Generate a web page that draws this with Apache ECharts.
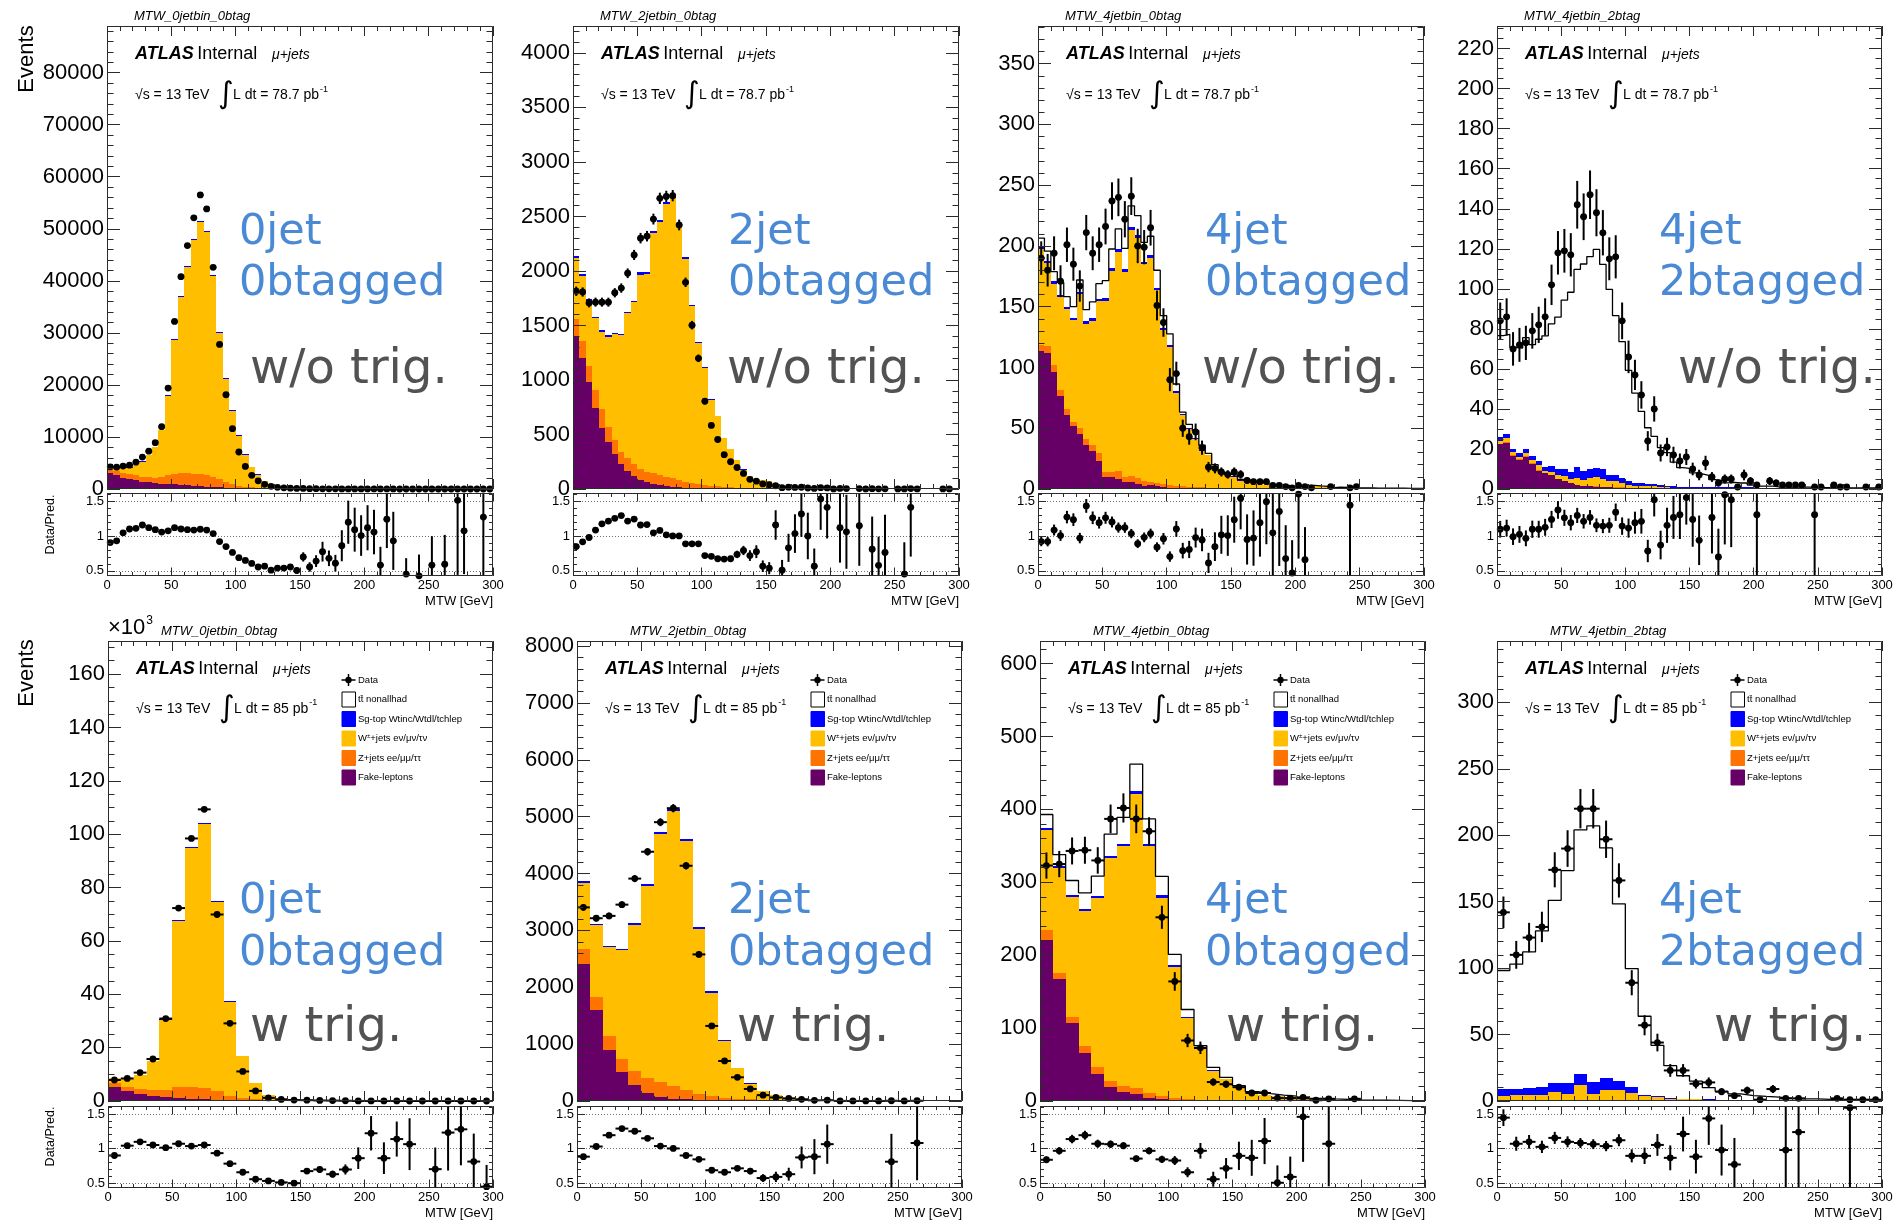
<!DOCTYPE html>
<html>
<head>
<meta charset="utf-8">
<title>MTW control distributions, mu+jets</title>
<script src="https://cdn.jsdelivr.net/npm/echarts@6/dist/echarts.min.js"></script>
<style>
html, body { margin: 0; padding: 0; background: #ffffff; }
#chart { width: 1895px; height: 1222px; }
</style>
</head>
<body>
<div id="chart"></div>
<script>
// ---------------------------------------------------------------------------
// Histogram contents (events per bin). Top row: 5 GeV bins, bottom row: 10 GeV bins.
// Stack order (bottom -> top): fake leptons, Z+jets, W+jets, single top, ttbar.
// ---------------------------------------------------------------------------

// 0 jet, 0 b-tag, no trigger requirement (78.7 pb-1)
const p1Data = [4270, 4200, 4400, 4570, 5160, 6140, 7260, 8900, 11980, 19390,
  32190, 40790, 46780, 52100, 56510, 53820, 42590, 27770, 18110, 11600,
  7110, 4340, 2620, 1570, 900, 520, 324, 227, 167, 111,
  112, 67, 58, 30, 37, 26, 15, 15, 12, 12,
  12, 11, 5, 9, 5, 1, 4, 1, 2, 1,
  2, 1, 2, 1, 2, 3, 1, 1, 2, 1];
const p1Ratio = [0.905, 0.93, 1.045, 1.10, 1.11, 1.157, 1.118, 1.09, 1.056, 1.073,
  1.118, 1.10, 1.09, 1.084, 1.096, 1.084, 1.034, 0.92, 0.848, 0.764,
  0.69, 0.65, 0.607, 0.556, 0.567, 0.51, 0.54, 0.54, 0.556, 0.506,
  0.70, 0.556, 0.64, 0.775, 0.68, 0.61, 0.86, 1.197, 1.09, 1.006,
  1.118, 1.056, 0.584, 1.24, 0.93, null, 0.455, null, 0.43, null,
  0.584, null, 0.595, null, 1.51, 1.073, null, null, 1.27, null];
const p1Fake = [3140, 2620, 2170, 1870, 1650, 1420, 1270, 1120, 1050, 970,
  880, 800, 720, 640, 560, 480, 400, 320, 250, 190,
  140, 100, 80, 60, 40, 30, 22, 16, 12, 9,
  7, 5, 4, 3, 2, 2, 1, 1, 1, 1,
  1, 1, 1, 1, 1, 0.2, 0.2, 0.2, 0.2, 0.2,
  0.2, 0.2, 0.2, 0.2, 0.2, 0.2, 0.2, 0.2, 0.2, 0.2];
const p1Zjets = [760, 880, 980, 980, 950, 980, 980, 1080, 1320, 1720,
  2000, 2210, 2290, 2310, 2320, 2210, 1970, 1540, 1160, 710,
  440, 350, 240, 170, 120, 80, 60, 45, 35, 27,
  20, 16, 13, 10, 8, 6, 5, 4, 3, 3,
  2, 2, 2, 1, 1, 0.3, 0.3, 0.3, 0.3, 0.3,
  0.3, 0.3, 0.3, 0.3, 0.3, 0.3, 0.3, 0.3, 0.3, 0.3];
const p1Wjets = [800, 998, 1037, 1276, 2015, 2862, 4188, 5887, 8875, 15248,
  25735, 33852, 39660, 44838, 48396, 46685, 38565, 28096, 19758, 14120,
  9592, 6130, 3923, 2530, 1384, 876, 492, 339, 238, 172,
  125, 93, 68, 53, 41, 31, 24, 18, 14, 10,
  8, 5.5, 3.5, 3, 1.8, 4.0, 3.2, 2.6, 2.1, 1.7,
  1.3, 1.0, 0.8, 0.6, 0.5, 0.4, 0.2, 0.1, 0, 0];
const p1Sgtop = [15, 15, 20, 25, 30, 40, 50, 70, 90, 120,
  160, 200, 230, 250, 260, 250, 230, 200, 170, 140,
  110, 85, 65, 50, 38, 28, 21, 16, 12, 9,
  7, 5, 4, 3, 3, 2, 2, 2, 1, 1,
  1, 1, 1, 1, 1, 0.2, 0.2, 0.2, 0.2, 0.2,
  0.2, 0.2, 0.2, 0.2, 0.2, 0.2, 0.2, 0.2, 0.2, 0.2];
const p1Ttbar = [3, 3, 3, 4, 5, 5, 6, 8, 10, 12,
  15, 18, 20, 22, 24, 25, 25, 24, 22, 20,
  18, 15, 12, 10, 8, 6, 5, 4, 3, 3,
  1, 1, 1, 1, 1, 1, 1, 1, 1, 1,
  1, 1, 1, 1, 1, 0.1, 0.1, 0.1, 0.1, 0.1,
  0.1, 0.1, 0.1, 0.1, 0.1, 0.1, 0.1, 0.1, 0.1, 0.1];

// 2 jet, 0 b-tag, no trigger requirement
const p2Data = [1814, 1807, 1707, 1714, 1714, 1714, 1800, 1843, 1979, 2147,
  2301, 2319, 2476, 2666, 2684, 2691, 2422, 1896, 1503, 1199,
  805, 583, 454, 315, 250, 197, 143, 89, 72, 47,
  39, 30, 12, 17, 14, 16, 9, 5, 12, 10,
  1, 5, 4, 0, 4, 1, 3, 2, 2, 0,
  1, 1, 4, 1, 0, 0, 0, 1, 1, 0];
const p2Ratio = [0.848, 0.916, 0.978, 1.084, 1.174, 1.213, 1.253, 1.292, 1.213, 1.242,
  1.157, 1.163, 1.045, 1.079, 1.017, 1.0, 1.0, 0.888, 0.888, 0.888,
  0.719, 0.708, 0.674, 0.669, 0.674, 0.736, 0.792, 0.719, 0.775, 0.567,
  0.539, 1.157, 0.51, 0.83, 1.034, 1.315, 1.0, 0.567, 1.53, 1.41,
  null, 1.118, 1.06, null, 1.146, null, 0.81, 0.58, 0.764, null,
  null, 0.455, 1.41, null, null, null, null, null, null, null];
const p2Fake = [1400, 1200, 984, 741, 562, 429, 322, 233, 168, 118,
  80, 60, 45, 35, 25, 20, 15, 10, 8, 6,
  5, 4, 3, 2, 2, 1, 1, 1, 1, 1,
  0.5, 0.5, 0.5, 0.5, 0.5, 0.5, 0.5, 0.5, 0.5, 0.5,
  0.5, 0.5, 0.5, 0.5, 0.5, 0.5, 0.5, 0.5, 0.5, 0.5,
  0.5, 0.5, 0.5, 0.5, 0.5, 0.5, 0.5, 0.5, 0.5, 0.5];
const p2Zjets = [160, 156, 143, 171, 171, 143, 125, 107, 118, 115,
  99, 94, 98, 90, 86, 77, 67, 54, 46, 39,
  33, 26, 21, 16, 12, 9, 7, 5, 4, 3,
  3, 2, 2, 2, 1.5, 1.5, 1, 1, 1, 1,
  0.8, 0.8, 0.6, 0.6, 0.5, 0.5, 0.4, 0.4, 0.3, 0.3,
  0.3, 0.2, 0.2, 0.2, 0.2, 0.1, 0.1, 0.1, 0.1, 0.1];
const p2Wjets = [562, 600, 601, 652, 710, 824, 973, 1069, 1327, 1478,
  1787, 1817, 2203, 2323, 2505, 2571, 2317, 2050, 1621, 1291,
  1070, 783, 643, 447, 352, 254, 169, 115, 85, 76,
  66, 22, 19, 16, 10, 8.7, 6.3, 6.2, 5.3, 4.6,
  3.1, 2.6, 2.2, 2.0, 2.0, 1.8, 2.4, 2.1, 1.4, 1.2,
  1.1, 1.2, 1.8, 1.0, 0.8, 0.7, 0.6, 0.4, 0.3, 0.1];
const p2Sgtop = [15, 15, 15, 15, 15, 15, 15, 15, 15, 15,
  20, 20, 20, 20, 20, 20, 20, 18, 15, 12,
  10, 8, 6, 5, 4, 3, 2, 2, 2, 2,
  2, 1, 1, 1, 1, 0.8, 0.7, 0.6, 0.5, 0.5,
  0.4, 0.4, 0.3, 0.3, 0.3, 0.2, 0.2, 0.2, 0.2, 0.2,
  0.1, 0.1, 0.1, 0.1, 0.1, 0.1, 0.1, 0.1, 0.1, 0.1];
const p2Ttbar = [2, 2, 2, 2, 2, 2, 2, 2, 3, 3,
  3, 3, 3, 3, 3, 3, 3, 3, 3, 2,
  2, 2, 1, 1, 1, 1, 1, 1, 1, 1,
  0.5, 0.5, 0.5, 0.5, 0.5, 0.5, 0.5, 0.5, 0.5, 0.5,
  0.2, 0.2, 0.2, 0.2, 0.2, 0.2, 0.2, 0.2, 0.2, 0.2,
  0.2, 0.2, 0.2, 0.2, 0.2, 0.2, 0.2, 0.2, 0.2, 0.2];

// 4 jet, 0 b-tag, no trigger requirement
const p3Data = [190, 180, 194, 171, 201, 185, 167, 211, 194, 201,
  216, 237, 240, 222, 241, 200, 199, 215, 151, 137,
  90, 95, 50, 43, 47, 34, 18, 17, 14, 12,
  14, 12, 7, 6, 6, 6, 3, 3, 2, 1,
  3, 2, 1, 0, 0, 2, 0, 0, 1, 2,
  0, 0, 0, 0, 0, 0, 0, 0, 0, 0];
const p3Ratio = [0.92, 0.92, 1.085, 1.006, 1.27, 1.233, 0.97, 1.43, 1.26, 1.19,
  1.26, 1.2, 1.12, 1.12, 1.034, 0.89, 0.98, 1.034, 0.84, 0.96,
  0.705, 1.1, 0.79, 0.807, 0.977, 0.943, 0.614, 0.847, 1.017, 1.006,
  1.233, 1.54, 0.95, 0.97, 1.19, 1.49, 1.045, 1.35, 0.676, 0.47,
  1.6, 0.66, null, null, null, null, null, null, 1.44, null,
  null, null, null, null, null, null, null, null, null, null];
const p3Fake = [113.3, 112.2, 96.2, 76.4, 60.5, 51.7, 45.4, 36.3, 31.6, 23.4,
  9.6, 9.6, 8.2, 5.5, 6.0, 4.1, 2.7, 3.3, 2.2, 1.5,
  1.2, 1.0, 0.8, 0.6, 0.5, 0.4, 0.3, 0.3, 0.2, 0.2,
  0.2, 0.1, 0.1, 0.1, 0.1, 0.1, 0.1, 0.1, 0.1, 0.1,
  0.1, 0.1, 0.1, 0.1, 0.1, 0.1, 0.1, 0.1, 0.1, 0.1,
  0.1, 0.1, 0.1, 0.1, 0.1, 0.1, 0.1, 0.1, 0.1, 0.1];
const p3Zjets = [4.9, 5.5, 6.1, 4.7, 5.5, 3.8, 4.6, 4.9, 4.7, 6.0,
  4.7, 4.7, 6.9, 4.1, 4.4, 4.7, 4.2, 2.2, 2.5, 2.6,
  2.4, 1.7, 1.4, 1.2, 1.0, 0.9, 0.8, 0.6, 0.5, 0.4,
  0.4, 0.3, 0.3, 0.3, 0.2, 0.2, 0.2, 0.1, 0.1, 0.1,
  0.1, 0.1, 0.1, 0.1, 0.1, 0.1, 0.1, 0.1, 0.1, 0.1,
  0.1, 0.1, 0.1, 0.1, 0.1, 0.1, 0.1, 0.1, 0.1, 0.1];
const p3Wjets = [79.2, 67.9, 66.8, 77.0, 81.9, 83.3, 110.3, 94.9, 102.3, 125.1,
  140.2, 165.0, 179.6, 168.6, 202.6, 198.0, 177.9, 184.8, 158.9, 126.5,
  113.3, 76.5, 58.3, 47.6, 39.7, 30.3, 26.5, 17.5, 11.6, 10.1,
  9.6, 6.4, 6.1, 5.0, 4.0, 3.1, 2.2, 1.6, 2.4, 1.6,
  1.4, 2.5, 2.5, 2.0, 1.7, 0.8, 1.2, 1.0, 0.4, 0.6,
  0.6, 0.5, 0.4, 0.3, 0.3, 0.3, 0.2, 0.1, 0.1, 0.1];
const p3Sgtop = [2.0, 2.0, 1.8, 1.8, 1.8, 1.8, 2.0, 2.0, 2.2, 2.2,
  2.4, 2.4, 2.5, 2.5, 2.6, 2.6, 2.4, 2.4, 2.2, 2.0,
  1.8, 1.5, 1.2, 1.0, 0.9, 0.8, 0.7, 0.6, 0.5, 0.4,
  0.4, 0.3, 0.3, 0.3, 0.2, 0.2, 0.1, 0.1, 0.1, 0.1,
  0.1, 0.1, 0.1, 0.1, 0.1, 0.1, 0.1, 0.1, 0.1, 0.1,
  0.1, 0.1, 0.1, 0.1, 0.1, 0.1, 0.1, 0.1, 0.1, 0.1];
const p3Ttbar = [7.1, 8.1, 7.9, 10.1, 8.6, 9.4, 9.7, 9.5, 13.2, 12.3,
  14.5, 15.8, 16.8, 17.3, 17.4, 15.6, 15.8, 15.3, 14.2, 10.1,
  9.0, 5.7, 1.6, 2.8, 5.9, 3.6, 1.0, 1.0, 1.0, 0.9,
  0.8, 0.7, 0.6, 0.5, 0.5, 0.4, 0.3, 0.3, 0.3, 0.2,
  0.2, 0.2, 0.2, 0.2, 0.2, 0.1, 0.1, 0.1, 0.1, 0.1,
  0.1, 0.1, 0.1, 0.1, 0.1, 0.1, 0.1, 0.1, 0.1, 0.1];

// 4 jet, 2 b-tag, no trigger requirement
const p4Data = [84, 86, 70, 72, 73, 79, 82, 86, 102, 118,
  119, 117, 142, 136, 147, 138, 128, 115, 116, 84,
  66, 57, 47, 24, 40, 18, 21, 17, 14, 16,
  10, 7, 13, 6, 3, 5, 5, 1, 7, 4,
  2, 0, 4, 3, 2, 2, 2, 2, 0, 1,
  1, 0, 2, 1, 1, 0, 0, 1, 0, 1];
const p4Ratio = [1.096, 1.113, 0.99, 1.023, 0.966, 1.096, 1.096, 1.124, 1.237, 1.373,
  1.26, 1.19, 1.294, 1.21, 1.266, 1.153, 1.141, 1.153, 1.34, 1.141,
  1.113, 1.19, 1.21, 0.785, 1.52, 0.87, 1.153, 1.266, 1.305, 1.55,
  1.237, 0.938, null, 1.266, 0.70, 1.59, 1.52, null, null, null,
  1.305, null, null, null, null, null, null, null, null, 1.305,
  null, null, null, null, null, null, null, null, null, null];
const p4Fake = [22.4, 23.0, 16.5, 14.6, 16.0, 12.7, 9.2, 7.8, 6.8, 4.9,
  3.9, 2.9, 1.9, 1.5, 1.5, 1.2, 1.0, 0.8, 0.7, 0.6,
  0.5, 0.4, 0.3, 0.3, 0.2, 0.2, 0.2, 0.2, 0.1, 0.1,
  0.3, 0.3, 0.3, 0.3, 0.3, 0.3, 0.3, 0.3, 0.3, 0.3,
  0.3, 0.3, 0.3, 0.3, 0.3, 0.3, 0.3, 0.3, 0.3, 0.3,
  0.3, 0.3, 0.3, 0.3, 0.3, 0.3, 0.3, 0.3, 0.3, 0.3];
const p4Zjets = [0.3, 0.3, 0.3, 0.3, 0.3, 0.3, 0.3, 0.3, 0.3, 0.3,
  0.3, 0.3, 0.2, 0.2, 0.2, 0.2, 0.2, 0.2, 0.2, 0.2,
  0.2, 0.2, 0.2, 0.2, 0.2, 0.2, 0.1, 0.1, 0.1, 0.1,
  0.1, 0.1, 0.1, 0.1, 0.1, 0.1, 0.1, 0.1, 0.1, 0.1,
  0.1, 0.1, 0.1, 0.1, 0.1, 0.1, 0.1, 0.1, 0.1, 0.1,
  0.1, 0.1, 0.1, 0.1, 0.1, 0.1, 0.1, 0.1, 0.1, 0.1];
const p4Wjets = [1.5, 2.0, 1.5, 1.2, 1.5, 1.5, 2.5, 1.0, 1.5, 2.0,
  2.5, 2.0, 3.5, 3.0, 4.0, 4.5, 4.0, 3.0, 3.0, 2.0,
  1.5, 1.0, 1.2, 0.8, 1.0, 0.5, 0.5, 0.4, 0.4, 0.3,
  0.2, 0.2, 0.2, 0.2, 0.2, 0.2, 0.2, 0.2, 0.2, 0.2,
  0.1, 0.1, 0.1, 0.1, 0.1, 0.1, 0.1, 0.1, 0.1, 0.1,
  0.1, 0.1, 0.1, 0.1, 0.1, 0.1, 0.1, 0.1, 0.1, 0.1];
const p4Sgtop = [2.0, 2.2, 1.8, 1.9, 2.2, 1.8, 2.2, 2.0, 2.8, 3.0,
  3.5, 3.5, 5.5, 4.5, 4.5, 4.8, 4.8, 3.2, 3.0, 2.6,
  2.0, 1.6, 1.4, 1.3, 1.2, 1.0, 0.8, 0.6, 0.5, 0.5,
  0.4, 0.4, 0.3, 0.3, 0.3, 0.2, 0.2, 0.2, 0.2, 0.2,
  0.1, 0.1, 0.1, 0.1, 0.1, 0.1, 0.1, 0.1, 0.1, 0.1,
  0.1, 0.1, 0.1, 0.1, 0.1, 0.1, 0.1, 0.1, 0.1, 0.1];
const p4Ttbar = [50.4, 49.8, 50.6, 52.4, 55.6, 55.8, 60.6, 65.4, 71.1, 75.7,
  84.2, 89.6, 98.6, 103.2, 105.9, 109.0, 102.2, 92.5, 79.7, 68.2,
  55.1, 44.7, 35.7, 28.0, 23.7, 18.8, 16.6, 12.1, 9.6, 9.3,
  7.1, 6.5, 5.9, 3.8, 3.4, 2.3, 2.5, 2.2, 2.2, 1.2,
  0.8, 0.8, 0.8, 0.5, 0.4, 0.4, 0.4, 0.3, 0.3, 0.17,
  0.1, 0.05, 0, 0, 0, 0, 0, 0, 0, 0];

// 0 jet, 0 b-tag, with trigger (85 pb-1)
const p5Data = [7870, 8450, 10640, 15740, 30900, 72300, 98400, 109300, 69900, 29100,
  11070, 3790, 1170, 600, 350, 300, 200, 150, 90, 30,
  24, 14, 20, 8, 1, 5, 5, 6, 4, 2];
const p5Ratio = [0.898, 1.04, 1.096, 1.05, 1.011, 1.068, 1.034, 1.05, 0.932, 0.78,
  0.655, 0.554, 0.53, 0.508, 0.497, 0.672, 0.695, 0.627, 0.695, 0.859,
  1.22, 0.859, 1.136, 1.062, null, 0.70, 1.23, 1.277, 0.81, 0.446];
const p5Fake = [5250, 3600, 2600, 1750, 1460, 1170, 700, 580, 400, 300,
  200, 120, 60, 30, 20, 10, 6, 4, 3, 2,
  1, 1, 0.5, 0.5, 0.3, 0.3, 0.2, 0.2, 0.2, 0.2];
const p5Zjets = [1650, 1500, 1900, 2350, 2640, 4080, 4550, 4220, 3200, 1600,
  970, 480, 250, 120, 70, 40, 20, 14, 9, 3,
  2.5, 2, 2, 1, 0.8, 0.8, 0.5, 0.5, 0.5, 0.4];
const p5Wjets = [1832, 2993, 5165, 10826, 26354, 62240, 89648, 99006, 71138, 35211,
  15604, 6166, 1858, 1004, 598, 385.5, 254.5, 214.5, 112.7, 26.8,
  13.9, 11.9, 13.9, 4.9, 3.4, 5.4, 2.9, 3.5, 3.7, 3.5];
const p5Sgtop = [30, 30, 40, 60, 100, 200, 250, 280, 250, 180,
  120, 70, 40, 25, 15, 10, 7, 6, 5, 3,
  2.2, 1.3, 1.1, 1, 0.4, 0.5, 0.4, 0.4, 0.4, 0.3];
const p5Ttbar = [2, 2, 3, 4, 6, 10, 12, 14, 12, 9,
  6, 4, 2, 1, 1, 0.5, 0.5, 0.5, 0.3, 0.2,
  0.1, 0.1, 0.1, 0.1, 0.1, 0.1, 0.1, 0.1, 0.1, 0.1];

// 2 jet, 0 b-tag, with trigger
const p6Data = [3405, 3214, 3255, 3453, 3911, 4383, 4903, 5149, 4137, 2578,
  1320, 704, 417, 212, 103, 62, 45, 30, 12, 14,
  2, 1, 1, 1, 4, 1, 4, 0, 0, 0];
const p6Ratio = [0.881, 1.028, 1.192, 1.288, 1.249, 1.147, 1.034, 1.0, 0.898, 0.842,
  0.684, 0.655, 0.712, 0.672, 0.571, 0.588, 0.627, 0.87, 0.881, 1.062,
  null, null, null, null, 0.808, null, 1.079, null, null, null];
const p6Fake = [2414, 1593, 896, 513, 280, 144, 75, 41, 27, 20,
  14, 10, 7, 5, 3, 3, 2, 2, 1, 1,
  0.5, 0.5, 0.5, 0.5, 0.5, 0.5, 0.5, 0.5, 0.5, 0.5];
const p6Zjets = [266, 240, 239, 225, 253, 266, 253, 219, 164, 103,
  75, 45, 34, 22, 17, 9, 7, 4, 3, 2,
  1.5, 1, 0.8, 0.6, 0.5, 0.4, 0.3, 0.3, 0.2, 0.2];
const p6Wjets = [1160, 1268, 1571, 1918, 2568, 3375, 4372, 4847, 4380, 2909,
  1817, 1002, 533, 279, 154, 88, 59, 26, 7.8, 8.7,
  4.8, 3.5, 2.9, 2.2, 3.3, 1.6, 2.5, 1.8, 1.5, 1.0];
const p6Sgtop = [20, 20, 20, 20, 25, 30, 35, 35, 30, 25,
  20, 15, 10, 7, 5, 4, 3, 2, 1.5, 1.2,
  1, 0.8, 0.6, 0.5, 0.5, 0.4, 0.3, 0.3, 0.2, 0.2];
const p6Ttbar = [5, 5, 5, 5, 5, 6, 7, 7, 6, 5,
  4, 3, 2, 2, 1, 1, 1, 0.5, 0.3, 0.3,
  0.2, 0.2, 0.2, 0.2, 0.2, 0.1, 0.1, 0.1, 0.1, 0.1];

// 4 jet, 0 b-tag, with trigger
const p7Data = [323, 325, 343, 344, 330, 387, 402, 387, 370, 252,
  164, 83, 73, 26, 23, 19, 11, 11, 4, 4,
  5, 1, 3, 0, 3, 0, 0, 0, 0, 0];
const p7Ratio = [0.836, 0.966, 1.136, 1.192, 1.068, 1.062, 1.04, 0.853, 0.966, 0.842,
  0.825, 0.655, 0.966, 0.554, 0.712, 0.893, 0.864, 1.107, 0.503, 0.588,
  1.458, null, 1.068, null, null, null, null, null, null, null];
const p7Fake = [221, 167, 107, 66, 37, 19, 12, 10, 4, 3,
  2, 1.5, 1, 0.5, 0.3, 0.2, 0.1, 0.1, 0.1, 0.1,
  0.1, 0.1, 0.1, 0.1, 0.1, 0.2, 0.3, 0.3, 0.3, 0.3];
const p7Zjets = [13, 9, 8, 9, 10, 9, 8, 8, 7, 4,
  2, 1.5, 1, 1, 0.5, 0.4, 0.3, 0.2, 0.2, 0.1,
  0.1, 0.1, 0.1, 0.1, 0.05, 0, 0, 0, 0, 0];
const p7Wjets = [138, 143, 165, 186, 232, 305, 330, 403, 339, 272,
  180, 111, 70, 40, 29, 18, 10.5, 8, 6.5, 5.5,
  2.6, 2.8, 2.2, 1.7, 1.2, 0.9, 0.6, 0.4, 0.3, 0.2];
const p7Sgtop = [3, 3, 2.5, 2.5, 2.5, 3, 3, 4, 3, 3,
  2, 1.5, 1, 0.7, 0.5, 0.4, 0.3, 0.3, 0.2, 0.2,
  0.1, 0.1, 0.1, 0.1, 0.05, 0, 0, 0, 0, 0];
const p7Ttbar = [18, 16, 20, 22, 27, 30, 36, 37, 34, 26,
  15, 10, 3, 4, 2, 2, 1.5, 1.4, 1, 0.9,
  0.5, 0.4, 0.3, 0.2, 0.1, 0.1, 0.1, 0.1, 0, 0];

// 4 jet, 2 b-tag, with trigger
const p8Data = [142, 110, 123, 131, 174, 190, 220, 220, 197, 166,
  89, 57, 44, 23, 23, 13, 14, 7, 4, 8,
  1, 9, 2, 2, 0, 0, 2, 1, 1, 1];
const p8Ratio = [1.446, 1.068, 1.096, 1.023, 1.153, 1.096, 1.079, 1.062, 1.034, 1.119,
  0.893, 0.893, 1.051, 0.864, 1.209, 0.881, 1.435, 0.977, 0.768, null,
  null, null, 0.977, 1.237, null, null, null, 1.59, null, null];
const p8Fake = [0.8, 0.6, 0.5, 0.5, 0.5, 0.4, 0.4, 0.3, 0.3, 0.3,
  0.2, 0.2, 0.2, 0.2, 0.2, 0.2, 0.2, 0.2, 0.2, 0.2,
  0.2, 0.2, 0.3, 0.3, 0.3, 0.3, 0.2, 0.2, 0.2, 0.2];
const p8Zjets = [0.3, 0.3, 0.3, 0.3, 0.4, 0.3, 0.5, 0.3, 0.4, 0.4,
  0.3, 0.2, 0.1, 0.1, 0.1, 0.1, 0.1, 0.1, 0.1, 0.1,
  0.1, 0.05, 0.05, 0.05, 0.05, 0.05, 0.05, 0.05, 0.05, 0.05];
const p8Wjets = [2.7, 3.5, 3.6, 3.6, 5.8, 4.6, 10.8, 4.7, 7.5, 7.5,
  5.6, 3.4, 2.6, 1.5, 1.2, 1.0, 0.8, 0.6, 0.5, 0.4,
  0.3, 0.3, 0.2, 0.2, 0.2, 0.1, 0.1, 0.1, 0.1, 0.1];
const p8Sgtop = [5.0, 4.4, 5.3, 6.1, 6.5, 7.9, 8.8, 8.7, 8.8, 6.7,
  4.4, 0.9, 0.9, 0.5, 0.3, 0.3, 0.3, 0.2, 0.2, 0.2,
  0.1, 0.1, 0.1, 0.1, 0.1, 0.1, 0.1, 0.1, 0.1, 0.1];
const p8Ttbar = [89.4, 94.2, 102.5, 117.5, 137.8, 160.2, 183.5, 193, 173.5, 133.4,
  89.2, 59.1, 38.1, 24.3, 17.2, 13.3, 8.6, 6.2, 4.3, 3.2,
  2.8, 2.3, 1.3, 1.0, 0.9, 0.7, 0.6, 0.13, 0.05, 0];

// Axis tick labels
const xTickLabels = [0, 50, 100, 150, 200, 250, 300];
const ratioTickLabels = [0.5, 1, 1.5];
const yTicksP1 = [0, 10000, 20000, 30000, 40000, 50000, 60000, 70000, 80000];
const yTicksP2 = [0, 500, 1000, 1500, 2000, 2500, 3000, 3500, 4000];
const yTicksP3 = [0, 50, 100, 150, 200, 250, 300, 350];
const yTicksP4 = [0, 20, 40, 60, 80, 100, 120, 140, 160, 180, 200, 220];
const yTicksP5 = [0, 20000, 40000, 60000, 80000, 100000, 120000, 140000, 160000];
const yTicksP6 = [0, 1000, 2000, 3000, 4000, 5000, 6000, 7000, 8000];
const yTicksP7 = [0, 100, 200, 300, 400, 500, 600];
const yTicksP8 = [0, 50, 100, 150, 200, 250, 300];

const legendLabels = ['Data', 'tt\u0304 nonallhad', 'Sg-top Wtinc/Wtdl/tchlep',
  '{m|W}{s|\u00b1}{m|+jets e\u03bd/\u03bc\u03bd/\u03c4\u03bd}', 'Z+jets ee/\u03bc\u03bc/\u03c4\u03c4', 'Fake-leptons'];

// ---------------------------------------------------------------------------
// Styling and layout
// ---------------------------------------------------------------------------
const FONT = 'Liberation Sans';
const BIG_FONT = 'DejaVu Sans';
const FRAME = '#2b2b2b';
const COLORS = { fake: '#660066', zjets: '#FF7400', wjets: '#FFBF00', sgtop: '#0000FF', ttbar: '#FFFFFF' };
const RATIO_RANGE = [0.427, 1.615];

const rows = [
  { mainTop: 26, mainH: 463, ratioTop: 493, ratioH: 83, titleY: 16, titleDx: 27, headY: 54.5, lumiY: 95.5,
    lumi: '78.7', jetY: 233, tagY: 284, trigY: 371, xTitleY: 601 },
  { mainTop: 641, mainH: 460, ratioTop: 1106, ratioH: 82, titleY: 631, titleDx: 53, headY: 669.5, lumiY: 709,
    lumi: '85', jetY: 902, tagY: 954, trigY: 1029, xTitleY: 1213 }
];

const panels = [
  { title: 'MTW_0jetbin_0btag', data: p1Data, ratio: p1Ratio, stack: [p1Fake, p1Zjets, p1Wjets, p1Sgtop, p1Ttbar],
    binWidth: 5, yMax: 88960, yTicks: yTicksP1, yMinor: 2000, yScale: 1, outline: false,
    row: 0, left: 107, width: 386, jet: '0jet', tag: '0btagged', trig: 'w/o trig.', jetX: 239, trigX: 250 },
  { title: 'MTW_2jetbin_0btag', data: p2Data, ratio: p2Ratio, stack: [p2Fake, p2Zjets, p2Wjets, p2Sgtop, p2Ttbar],
    binWidth: 5, yMax: 4247, yTicks: yTicksP2, yMinor: 100, yScale: 1, outline: false,
    row: 0, left: 573, width: 386, jet: '2jet', tag: '0btagged', trig: 'w/o trig.', jetX: 728, trigX: 727 },
  { title: 'MTW_4jetbin_0btag', data: p3Data, ratio: p3Ratio, stack: [p3Fake, p3Zjets, p3Wjets, p3Sgtop, p3Ttbar],
    binWidth: 5, yMax: 381, yTicks: yTicksP3, yMinor: 10, yScale: 1, outline: true,
    row: 0, left: 1038, width: 386, jet: '4jet', tag: '0btagged', trig: 'w/o trig.', jetX: 1205, trigX: 1202 },
  { title: 'MTW_4jetbin_2btag', data: p4Data, ratio: p4Ratio, stack: [p4Fake, p4Zjets, p4Wjets, p4Sgtop, p4Ttbar],
    binWidth: 5, yMax: 231.3, yTicks: yTicksP4, yMinor: 5, yScale: 1, outline: true,
    row: 0, left: 1497, width: 385, jet: '4jet', tag: '2btagged', trig: 'w/o trig.', jetX: 1659, trigX: 1678 },
  { title: 'MTW_0jetbin_0btag', data: p5Data, ratio: p5Ratio, stack: [p5Fake, p5Zjets, p5Wjets, p5Sgtop, p5Ttbar],
    binWidth: 10, yMax: 172400, yTicks: yTicksP5, yMinor: 5000, yScale: 1000, outline: false,
    row: 1, left: 108, width: 385, jet: '0jet', tag: '0btagged', trig: 'w trig.', jetX: 239, trigX: 250, legend: true },
  { title: 'MTW_2jetbin_0btag', data: p6Data, ratio: p6Ratio, stack: [p6Fake, p6Zjets, p6Wjets, p6Sgtop, p6Ttbar],
    binWidth: 10, yMax: 8089, yTicks: yTicksP6, yMinor: 200, yScale: 1, outline: false,
    row: 1, left: 577, width: 385, jet: '2jet', tag: '0btagged', trig: 'w trig.', jetX: 728, trigX: 737, legend: true },
  { title: 'MTW_4jetbin_0btag', data: p7Data, ratio: p7Ratio, stack: [p7Fake, p7Zjets, p7Wjets, p7Sgtop, p7Ttbar],
    binWidth: 10, yMax: 631, yTicks: yTicksP7, yMinor: 20, yScale: 1, outline: true,
    row: 1, left: 1040, width: 385, jet: '4jet', tag: '0btagged', trig: 'w trig.', jetX: 1205, trigX: 1226, legend: true },
  { title: 'MTW_4jetbin_2btag', data: p8Data, ratio: p8Ratio, stack: [p8Fake, p8Zjets, p8Wjets, p8Sgtop, p8Ttbar],
    binWidth: 10, yMax: 346.2, yTicks: yTicksP8, yMinor: 10, yScale: 1, outline: true,
    row: 1, left: 1497, width: 385, jet: '4jet', tag: '2btagged', trig: 'w trig.', jetX: 1659, trigX: 1714, legend: true }
];
const STACK_KEYS = ['fake', 'zjets', 'wjets', 'sgtop', 'ttbar'];

// ---------------------------------------------------------------------------
// Helpers
// ---------------------------------------------------------------------------
function tickRange(min, max, step) {
  const out = [];
  const n = Math.floor((max - min) / step + 1e-6);
  for (let i = 0; i <= n; i++) out.push(+(min + i * step).toFixed(6));
  return out;
}

const measureCtx = document.createElement('canvas').getContext('2d');
function textWidth(str, font) { measureCtx.font = font; return measureCtx.measureText(str).width; }

function makeAxis(gridIndex, position, min, max, ticks, len, label) {
  return {
    type: 'value', gridIndex: gridIndex, position: position, min: min, max: max,
    axisLine: { show: false, onZero: false },
    splitLine: { show: false },
    minorTick: { show: false },
    minorSplitLine: { show: false },
    axisTick: { show: true, inside: true, length: len, customValues: ticks,
      lineStyle: { color: FRAME, width: 1 } },
    axisLabel: label ? Object.assign({ show: true, customValues: ticks, color: '#000', fontFamily: FONT,
      hideOverlap: false, showMinLabel: true, showMaxLabel: true }, label) : { show: false },
    axisPointer: { show: false },
    silent: true,
    z: 10
  };
}

function renderBar(params, api) {
  const p0 = api.coord([api.value(0), api.value(2)]);
  const p1 = api.coord([api.value(1), api.value(3)]);
  const x0 = Math.round(p0[0]), x1 = Math.round(p1[0]);
  const yb = Math.round(p0[1]), yt = Math.round(p1[1]);
  if (yb - yt <= 0) return null;
  return { type: 'rect', shape: { x: x0, y: yt, width: x1 - x0, height: yb - yt },
    style: { fill: api.visual('color') } };
}

function renderPoint(params, api) {
  const cs = params.coordSys;
  const top = cs.y, bottom = cs.y + cs.height;
  const x = api.value(0), y = api.value(1), err = api.value(2), hw = api.value(3);
  const c = api.coord([x, y]);
  const yUp = Math.max(top, api.coord([x, y + err])[1]);
  const yDn = Math.min(bottom, api.coord([x, y - err])[1]);
  const xl = api.coord([x - hw, y])[0], xr = api.coord([x + hw, y])[0];
  const ink = { stroke: '#000', lineWidth: 2 };
  const kids = [];
  if (yDn > yUp) kids.push({ type: 'line', shape: { x1: c[0], y1: yUp, x2: c[0], y2: yDn }, style: ink });
  if (c[1] >= top - 1 && c[1] <= bottom + 1) {
    kids.push({ type: 'line', shape: { x1: xl, y1: c[1], x2: xr, y2: c[1] }, style: ink });
    kids.push({ type: 'circle', shape: { cx: c[0], cy: c[1], r: 3.4 }, style: { fill: '#000' } });
  }
  return { type: 'group', children: kids };
}

function renderGuide(params, api) {
  const cs = params.coordSys;
  const y = Math.round(api.coord([0, api.value(1)])[1]) + 0.5;
  return { type: 'line', shape: { x1: cs.x, y1: y, x2: cs.x + cs.width, y2: y },
    style: { stroke: '#707070', lineWidth: 1, lineDash: [1, 2] } };
}

function text(x, y, str, opts) {
  const o = opts || {};
  const st = Object.assign({
    text: str, x: 0, y: 0, fill: o.fill || '#000',
    fontFamily: o.family || FONT, fontSize: o.size || 13,
    fontStyle: o.italic ? 'italic' : 'normal', fontWeight: o.bold ? 'bold' : 'normal',
    align: o.align || 'left', textAlign: o.align || 'left',
    verticalAlign: 'middle', textVerticalAlign: 'middle'
  }, o.rich ? { rich: o.rich } : {});
  return { type: 'text', x: x, y: y, rotation: o.rotation || 0, style: st, z: 50, silent: true };
}

// ---------------------------------------------------------------------------
// Build grids, axes, series and annotations
// ---------------------------------------------------------------------------
const grids = [], xAxes = [], yAxes = [], series = [], graphics = [];
const xMinorTicks = tickRange(0, 300, 10);
const ratioMinorTicks = tickRange(0.5, 1.6, 0.1);

panels.forEach(function (p) {
  const r = rows[p.row];
  const L = p.left, W = p.width, R = L + W;

  const gMain = grids.length;
  grids.push({ left: L, top: r.mainTop, width: W, height: r.mainH, show: false, outerBoundsMode: 'none', containLabel: false });
  const gRatio = grids.length;
  grids.push({ left: L, top: r.ratioTop, width: W, height: r.ratioH, show: false, outerBoundsMode: 'none', containLabel: false });

  // main pad axes (ticks on all four sides)
  const xMain = xAxes.length;
  xAxes.push(makeAxis(gMain, 'bottom', 0, 300, xTickLabels, 10, null));
  xAxes.push(makeAxis(gMain, 'bottom', 0, 300, xMinorTicks, 5, null));
  xAxes.push(makeAxis(gMain, 'top', 0, 300, xTickLabels, 10, null));
  xAxes.push(makeAxis(gMain, 'top', 0, 300, xMinorTicks, 5, null));
  const yMain = yAxes.length;
  const yMinorTicks = tickRange(0, p.yMax, p.yMinor);
  yAxes.push(makeAxis(gMain, 'left', 0, p.yMax, p.yTicks, 13, {
    fontSize: 22, margin: 3, formatter: function (v) { return String(v / p.yScale); } }));
  yAxes.push(makeAxis(gMain, 'left', 0, p.yMax, yMinorTicks, 6.5, null));
  yAxes.push(makeAxis(gMain, 'right', 0, p.yMax, p.yTicks, 13, null));
  yAxes.push(makeAxis(gMain, 'right', 0, p.yMax, yMinorTicks, 6.5, null));

  // ratio pad axes
  const xRatio = xAxes.length;
  xAxes.push(makeAxis(gRatio, 'bottom', 0, 300, xTickLabels, 8.5, {
    fontSize: 13, margin: 3, formatter: function (v) { return String(v); } }));
  xAxes.push(makeAxis(gRatio, 'bottom', 0, 300, xMinorTicks, 4, null));
  xAxes.push(makeAxis(gRatio, 'top', 0, 300, xTickLabels, 8.5, null));
  xAxes.push(makeAxis(gRatio, 'top', 0, 300, xMinorTicks, 4, null));
  const yRatio = yAxes.length;
  yAxes.push(makeAxis(gRatio, 'left', RATIO_RANGE[0], RATIO_RANGE[1], ratioTickLabels, 8, {
    fontSize: 13, margin: 3, formatter: function (v) { return String(v); } }));
  yAxes.push(makeAxis(gRatio, 'left', RATIO_RANGE[0], RATIO_RANGE[1], ratioMinorTicks, 4, null));
  yAxes.push(makeAxis(gRatio, 'right', RATIO_RANGE[0], RATIO_RANGE[1], ratioTickLabels, 8, null));
  yAxes.push(makeAxis(gRatio, 'right', RATIO_RANGE[0], RATIO_RANGE[1], ratioMinorTicks, 4, null));

  // stacked prediction
  const w = p.binWidth;
  const n = p.data.length;
  const base = [];
  for (let i = 0; i < n; i++) base.push(0);
  p.stack.forEach(function (vals, k) {
    const items = vals.map(function (v, i) {
      const lo = i * w, b = base[i], t = b + v;
      base[i] = t;
      return [lo, lo + w, b, t];
    });
    series.push({ type: 'custom', name: STACK_KEYS[k], xAxisIndex: xMain, yAxisIndex: yMain,
      renderItem: renderBar, itemStyle: { color: COLORS[STACK_KEYS[k]] },
      encode: { x: [0, 1], y: [2, 3] }, data: items, z: 2, silent: true, emphasis: { disabled: true } });
  });

  // outline of the summed prediction (ttbar on top)
  if (p.outline) {
    const pts = [];
    base.forEach(function (t, i) { pts.push([i * w, t], [i * w + w, t]); });
    series.push({ type: 'line', xAxisIndex: xMain, yAxisIndex: yMain, data: pts, symbol: 'none', showSymbol: false,
      lineStyle: { color: '#000', width: 1.3 }, z: 3, silent: true, emphasis: { disabled: true } });
  }

  // data with Poisson errors
  const dataPts = [];
  p.data.forEach(function (N, i) { if (N > 0) dataPts.push([(i + 0.5) * w, N, Math.sqrt(N), w / 2]); });
  series.push({ type: 'custom', xAxisIndex: xMain, yAxisIndex: yMain, renderItem: renderPoint,
    encode: { x: 0, y: 1 }, data: dataPts, z: 4, silent: true, emphasis: { disabled: true } });

  // ratio pad: reference lines and data / prediction
  series.push({ type: 'custom', xAxisIndex: xRatio, yAxisIndex: yRatio, renderItem: renderGuide,
    encode: { x: 0, y: 1 }, data: ratioTickLabels.map(function (v) { return [0, v]; }), z: 1, silent: true });
  const ratioPts = [];
  p.ratio.forEach(function (q, i) {
    if (q !== null && p.data[i] > 0) ratioPts.push([(i + 0.5) * w, q, q / Math.sqrt(p.data[i]), w / 2]);
  });
  series.push({ type: 'custom', xAxisIndex: xRatio, yAxisIndex: yRatio, renderItem: renderPoint,
    encode: { x: 0, y: 1 }, data: ratioPts, z: 4, silent: true, emphasis: { disabled: true } });

  // frames
  [[r.mainTop, r.mainH], [r.ratioTop, r.ratioH]].forEach(function (f) {
    graphics.push({ type: 'rect', shape: { x: L + 0.5, y: f[0] + 0.5, width: W - 1, height: f[1] - 1 },
      style: { fill: 'none', stroke: FRAME, lineWidth: 1 }, z: 60, silent: true });
  });

  // titles and labels
  graphics.push(text(L + r.titleDx, r.titleY, p.title, { size: 13, italic: true }));
  graphics.push(text(L + 28, r.headY, '{a|ATLAS} {b|Internal}', { rich: {
    a: { fontFamily: FONT, fontSize: 18, fontWeight: 'bold', fontStyle: 'italic', fill: '#000' },
    b: { fontFamily: FONT, fontSize: 18, fill: '#000' } } }));
  graphics.push(text(L + 165, r.headY + 1, '\u03bc+jets', { size: 14, italic: true }));
  graphics.push(text(L + 28, r.lumiY, '\u221as = 13 TeV', { size: 14 }));
  graphics.push(text(L + 111, r.lumiY, '\u222b', { size: 30, family: BIG_FONT }));
  const lumiStr = 'L dt = ' + r.lumi + ' pb';
  graphics.push(text(L + 126, r.lumiY, lumiStr, { size: 14 }));
  graphics.push(text(L + 126 + textWidth(lumiStr, '14px ' + FONT) + 1, r.lumiY - 6, '-1', { size: 9 }));
  graphics.push(text(R, r.xTitleY, 'MTW [GeV]', { size: 13, align: 'right' }));

  graphics.push(text(p.jetX, r.jetY, p.jet, { size: 43, family: BIG_FONT, fill: '#4A89D4' }));
  graphics.push(text(p.jetX, r.tagY, p.tag, { size: 43, family: BIG_FONT, fill: '#4A89D4' }));
  graphics.push(text(p.trigX, r.trigY, p.trig, { size: 48, family: BIG_FONT, fill: '#525252' }));

  // legend
  if (p.legend) {
    const bx = L + 233.5, tx = L + 250;
    legendLabels.forEach(function (lab, k) {
      const cy = 680 + 19.5 * k;
      if (k === 0) {
        graphics.push({ type: 'line', shape: { x1: bx, y1: cy, x2: bx + 14, y2: cy }, style: { stroke: '#000', lineWidth: 1.5 }, z: 55, silent: true });
        graphics.push({ type: 'line', shape: { x1: bx + 7, y1: cy - 6, x2: bx + 7, y2: cy + 6 }, style: { stroke: '#000', lineWidth: 1.5 }, z: 55, silent: true });
        graphics.push({ type: 'circle', shape: { cx: bx + 7, cy: cy, r: 3.2 }, style: { fill: '#000' }, z: 56, silent: true });
      } else {
        const key = STACK_KEYS[5 - k];
        graphics.push({ type: 'rect', shape: { x: bx + 0.5, y: cy - 7.5, width: 13.5, height: 15 },
          style: { fill: COLORS[key], stroke: key === 'ttbar' ? '#000' : COLORS[key], lineWidth: 1 }, z: 55, silent: true });
      }
      if (lab.indexOf('{') >= 0) {
        graphics.push(text(tx, cy, lab, { rich: {
          m: { fontFamily: FONT, fontSize: 9.5, fill: '#000' },
          s: { fontFamily: FONT, fontSize: 6, fill: '#000', verticalAlign: 'top', padding: [0, 0, 5, 0] } } }));
      } else {
        graphics.push(text(tx, cy, lab, { size: 9.5 }));
      }
    });
  }
});

// axis titles shared by each row
graphics.push(text(27, 59, 'Events', { size: 22, align: 'center', rotation: Math.PI / 2 }));
graphics.push(text(27, 673, 'Events', { size: 22, align: 'center', rotation: Math.PI / 2 }));
graphics.push(text(51, 524.5, 'Data/Pred.', { size: 12.5, align: 'center', rotation: Math.PI / 2 }));
graphics.push(text(51, 1136.5, 'Data/Pred.', { size: 12.5, align: 'center', rotation: Math.PI / 2 }));
// exponent marker for the 0-jet triggered panel
graphics.push(text(108, 628, '\u00d710', { size: 22 }));
graphics.push(text(108 + textWidth('\u00d710', '22px ' + FONT) + 1, 621, '3', { size: 12 }));

const chart = echarts.init(document.getElementById('chart'), null, { renderer: 'canvas' });
chart.setOption({
  animation: false,
  backgroundColor: '#ffffff',
  textStyle: { fontFamily: FONT },
  tooltip: { show: false },
  grid: grids,
  xAxis: xAxes,
  yAxis: yAxes,
  series: series,
  graphic: { elements: graphics }
});
</script>
</body>
</html>
